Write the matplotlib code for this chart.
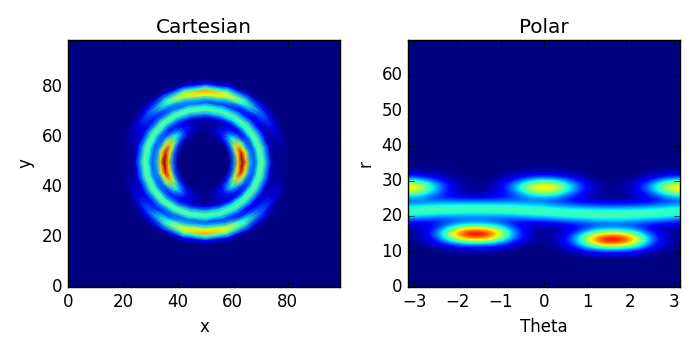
#!/usr/bin/env python3

import matplotlib
matplotlib.use("Agg")
import matplotlib.pyplot as plt
import numpy as np

# radius of each row of the table below
r_nodes = [9, 10.5, 12, 13.5, 15, 16.5, 18, 19.5, 21, 22.5, 24, 25.5, 27, 28.5, 30, 31.5, 33]
# theta of each column, in twelfths of pi
theta_twelfths = list(range(-12, 13))

# intensity, one row per radius, one column per theta
row_09_0 = [0, 0, 0, 0, 0, 0, 0, 0, 0, 0, 0, 0, 0, 0, .01, .01, .03, .04, .04, .04, .03, .01, .01, 0, 0]
row_10_5 = [0, 0, 0, .01, .03, .04, .04, .04, .03, .01, 0, 0, 0, .01, .04, .10, .18, .23, .25, .23, .18, .10, .04, .01, 0]
row_12_0 = [0, .01, .04, .10, .18, .23, .25, .23, .18, .10, .04, .01, .01, .04, .11, .27, .50, .66, .71, .66, .50, .27, .11, .04, .01]
row_13_5 = [.01, .04, .11, .27, .50, .66, .71, .66, .50, .27, .11, .04, .02, .05, .15, .38, .70, .93, 1, .93, .70, .38, .15, .05, .01]
row_15_0 = [.01, .05, .15, .38, .70, .93, 1, .93, .70, .38, .15, .05, .02, .04, .11, .27, .50, .66, .72, .66, .50, .27, .11, .04, .01]
row_16_5 = [.03, .05, .12, .27, .50, .66, .71, .66, .50, .27, .12, .05, .03, .03, .07, .13, .22, .27, .29, .27, .22, .13, .07, .03, .03]
row_18_0 = [.09, .08, .10, .15, .22, .27, .29, .27, .22, .15, .10, .08, .09, .11, .14, .16, .19, .21, .21, .21, .19, .16, .14, .11, .09]
row_19_5 = [.29, .27, .24, .22, .22, .22, .22, .22, .22, .22, .24, .27, .29, .32, .35, .37, .40, .41, .41, .41, .40, .37, .35, .32, .29]
row_21_0 = [.46, .45, .44, .42, .41, .40, .40, .40, .41, .42, .44, .45, .46, .47, .47, .47, .46, .46, .46, .46, .46, .47, .47, .47, .46]
row_22_5 = [.39, .41, .43, .45, .45, .46, .46, .46, .45, .45, .43, .41, .39, .35, .32, .30, .28, .27, .27, .27, .28, .30, .32, .35, .39]
row_24_0 = [.21, .23, .24, .25, .26, .26, .26, .26, .26, .25, .24, .23, .21, .18, .15, .11, .09, .07, .07, .07, .09, .11, .15, .18, .21]
row_25_5 = [.32, .30, .22, .15, .11, .09, .08, .09, .11, .15, .22, .30, .32, .29, .19, .11, .05, .02, .01, .02, .05, .11, .19, .29, .32]
row_27_0 = [.64, .56, .38, .20, .08, .03, .01, .03, .08, .20, .38, .56, .64, .56, .38, .20, .08, .03, .01, .03, .08, .20, .38, .56, .64]
row_28_5 = [.72, .63, .43, .23, .09, .03, .01, .03, .09, .23, .43, .63, .72, .63, .43, .23, .09, .03, .01, .03, .09, .23, .43, .63, .72]
row_30_0 = [.41, .36, .25, .13, .05, .02, 0, .02, .05, .13, .25, .36, .41, .36, .25, .13, .05, .02, 0, .02, .05, .13, .25, .36, .41]
row_31_5 = [.11, .10, .07, .04, .01, 0, 0, 0, .01, .04, .07, .10, .11, .10, .07, .04, .01, 0, 0, 0, .01, .04, .07, .10, .11]
row_33_0 = [.02, .02, .01, .01, 0, 0, 0, 0, 0, .01, .01, .02, .02, .02, .01, .01, 0, 0, 0, 0, 0, .01, .01, .02, .02]

x_center = 50
y_center = 50
x_ticks_cart = [0, 20, 40, 60, 80]
y_ticks_cart = [0, 20, 40, 60, 80]
x_ticks_polar = [-3, -2, -1, 0, 1, 2, 3]
y_ticks_polar = [0, 10, 20, 30, 40, 50, 60]


def main():
    plt.style.use("classic")
    values = np.array([row_09_0, row_10_5, row_12_0, row_13_5, row_15_0, row_16_5,
                       row_18_0, row_19_5, row_21_0, row_22_5, row_24_0, row_25_5,
                       row_27_0, row_28_5, row_30_0, row_31_5, row_33_0])
    r = np.array(r_nodes)
    theta = np.array(theta_twelfths) * np.pi / 12
    background = plt.get_cmap("jet")(0.0)

    fig, (ax1, ax2) = plt.subplots(1, 2, figsize=(7, 3.5), dpi=100)
    fig.subplots_adjust(left=0.0971, right=0.9714, bottom=0.18, top=0.886, wspace=0.25)

    # Cartesian panel: same table, wrapped around the centre
    tt, rr = np.meshgrid(theta, r)
    ax1.set_facecolor(background)
    ax1.pcolormesh(x_center + rr * np.sin(tt), y_center + rr * np.cos(tt), values,
                   shading="gouraud", cmap="jet", vmin=0, vmax=1)
    ax1.set_xlim(0, 99)
    ax1.set_ylim(0, 99)
    ax1.set_xticks(x_ticks_cart)
    ax1.set_yticks(y_ticks_cart)
    ax1.set_title("Cartesian")
    ax1.set_xlabel("x")
    ax1.set_ylabel("y")

    # Polar panel: half a cell of padding so nodes sit on the pixel centres
    dt = (theta[1] - theta[0]) / 2
    dr = (r[1] - r[0]) / 2
    ax2.set_facecolor(background)
    ax2.imshow(values, origin="lower", aspect="auto", cmap="jet", vmin=0, vmax=1,
               interpolation="bicubic",
               extent=(theta[0] - dt, theta[-1] + dt, r[0] - dr, r[-1] + dr))
    ax2.set_xlim(-np.pi, np.pi)
    ax2.set_ylim(0, 70)
    ax2.set_xticks(x_ticks_polar)
    ax2.set_yticks(y_ticks_polar)
    ax2.set_title("Polar")
    ax2.set_xlabel("Theta")
    ax2.set_ylabel("r")

    fig.savefig("out.png", dpi=100)
    plt.close(fig)


if __name__ == '__main__':
    main()
